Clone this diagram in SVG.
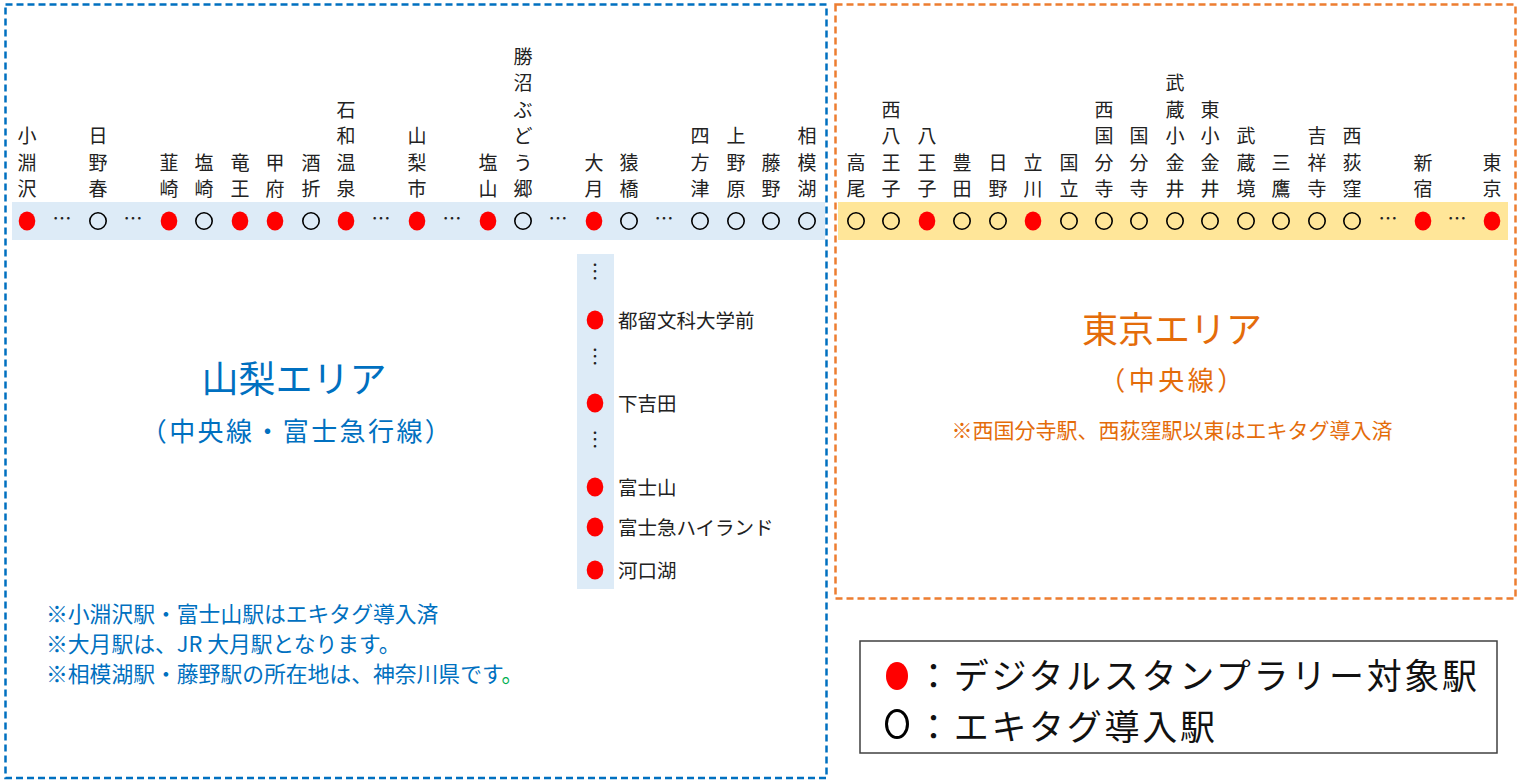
<svg xmlns="http://www.w3.org/2000/svg" width="1518" height="780" viewBox="0 0 1518 780">
<style>
text { font-family: "Noto Sans CJK JP", "Noto Sans", sans-serif; }
.st { font-size: 19px; fill: #222222; text-anchor: middle; }
.dots { font-size: 19px; fill: #222222; text-anchor: middle; }
.fj { font-size: 19.5px; fill: #222222; }
.red { fill: #FF0000; }
.open { fill: none; stroke: #000000; stroke-width: 1.6; }
.blue { fill: #0070C0; }
.orange { fill: #E46C0A; }
.note { font-size: 21.8px; fill: #0070C0; }
.leg { font-size: 35px; letter-spacing: 2.7px; fill: #111111; }
</style>
<rect width="1518" height="780" fill="#FFFFFF"/>

<!-- area frames -->
<g id="frames">
<rect x="5.5" y="4.5" width="821" height="773.5" fill="none" stroke="#0070C0" stroke-width="2.5" stroke-dasharray="7 4"/>
<rect x="835.5" y="4.5" width="680" height="594" fill="none" stroke="#ED7D31" stroke-width="2.5" stroke-dasharray="7 4"/>
</g>

<!-- line bands (connectors) -->
<g id="connectors">
<rect x="12" y="202" width="813" height="38" fill="#DDEBF7"/>
<rect x="838" y="202" width="670" height="38" fill="#FFE699"/>
<rect x="577" y="254" width="37" height="335" fill="#DDEBF7"/>
<text class="dots" x="62" y="226">…</text>
<text class="dots" x="133" y="226">…</text>
<text class="dots" x="381" y="226">…</text>
<text class="dots" x="452" y="226">…</text>
<text class="dots" x="558" y="226">…</text>
<text class="dots" x="664" y="226">…</text>
<text class="dots" x="1388" y="226">…</text>
<text class="dots" x="1457" y="226">…</text>
<text class="dots" x="595" y="279">︙</text>
<text class="dots" x="595" y="364">︙</text>
<text class="dots" x="595" y="447">︙</text>
</g>

<!-- Yamanashi area stations -->
<g id="st-kobuchizawa"><ellipse class="red" cx="27" cy="221" rx="8.3" ry="9.5"/><text class="st"><tspan x="27" y="143">小</tspan><tspan x="27" y="169.5">淵</tspan><tspan x="27" y="196">沢</tspan></text></g>
<g id="st-hinoharu"><circle class="open" cx="98" cy="221" r="8.2"/><text class="st"><tspan x="98" y="143">日</tspan><tspan x="98" y="169.5">野</tspan><tspan x="98" y="196">春</tspan></text></g>
<g id="st-nirasaki"><ellipse class="red" cx="169" cy="221" rx="8.3" ry="9.5"/><text class="st"><tspan x="169" y="169.5">韮</tspan><tspan x="169" y="196">崎</tspan></text></g>
<g id="st-shiozaki"><circle class="open" cx="204" cy="221" r="8.2"/><text class="st"><tspan x="204" y="169.5">塩</tspan><tspan x="204" y="196">崎</tspan></text></g>
<g id="st-ryuo"><ellipse class="red" cx="240" cy="221" rx="8.3" ry="9.5"/><text class="st"><tspan x="240" y="169.5">竜</tspan><tspan x="240" y="196">王</tspan></text></g>
<g id="st-kofu"><ellipse class="red" cx="275" cy="221" rx="8.3" ry="9.5"/><text class="st"><tspan x="275" y="169.5">甲</tspan><tspan x="275" y="196">府</tspan></text></g>
<g id="st-sakaori"><circle class="open" cx="311" cy="221" r="8.2"/><text class="st"><tspan x="311" y="169.5">酒</tspan><tspan x="311" y="196">折</tspan></text></g>
<g id="st-isawaonsen"><ellipse class="red" cx="346" cy="221" rx="8.3" ry="9.5"/><text class="st"><tspan x="346" y="116.5">石</tspan><tspan x="346" y="143">和</tspan><tspan x="346" y="169.5">温</tspan><tspan x="346" y="196">泉</tspan></text></g>
<g id="st-yamanashishi"><ellipse class="red" cx="417" cy="221" rx="8.3" ry="9.5"/><text class="st"><tspan x="417" y="143">山</tspan><tspan x="417" y="169.5">梨</tspan><tspan x="417" y="196">市</tspan></text></g>
<g id="st-enzan"><ellipse class="red" cx="488" cy="221" rx="8.3" ry="9.5"/><text class="st"><tspan x="488" y="169.5">塩</tspan><tspan x="488" y="196">山</tspan></text></g>
<g id="st-katsunumabudokyo"><circle class="open" cx="523" cy="221" r="8.2"/><text class="st"><tspan x="523" y="63.5">勝</tspan><tspan x="523" y="90">沼</tspan><tspan x="523" y="116.5">ぶ</tspan><tspan x="523" y="143">ど</tspan><tspan x="523" y="169.5">う</tspan><tspan x="523" y="196">郷</tspan></text></g>
<g id="st-otsuki"><ellipse class="red" cx="594" cy="221" rx="8.3" ry="9.5"/><text class="st"><tspan x="594" y="169.5">大</tspan><tspan x="594" y="196">月</tspan></text></g>
<g id="st-saruhashi"><circle class="open" cx="629" cy="221" r="8.2"/><text class="st"><tspan x="629" y="169.5">猿</tspan><tspan x="629" y="196">橋</tspan></text></g>
<g id="st-shiotsu"><circle class="open" cx="700" cy="221" r="8.2"/><text class="st"><tspan x="700" y="143">四</tspan><tspan x="700" y="169.5">方</tspan><tspan x="700" y="196">津</tspan></text></g>
<g id="st-uenohara"><circle class="open" cx="736" cy="221" r="8.2"/><text class="st"><tspan x="736" y="143">上</tspan><tspan x="736" y="169.5">野</tspan><tspan x="736" y="196">原</tspan></text></g>
<g id="st-fujino"><circle class="open" cx="771" cy="221" r="8.2"/><text class="st"><tspan x="771" y="169.5">藤</tspan><tspan x="771" y="196">野</tspan></text></g>
<g id="st-sagamiko"><circle class="open" cx="807" cy="221" r="8.2"/><text class="st"><tspan x="807" y="143">相</tspan><tspan x="807" y="169.5">模</tspan><tspan x="807" y="196">湖</tspan></text></g>

<!-- Fujikyu line stations -->
<g id="st-tsurubunkadaigakumae"><ellipse class="red" cx="595" cy="320" rx="8.3" ry="9.5"/><text class="fj" x="618" y="327.5">都留文科大学前</text></g>
<g id="st-shimoyoshida"><ellipse class="red" cx="595" cy="403" rx="8.3" ry="9.5"/><text class="fj" x="618" y="410.5">下吉田</text></g>
<g id="st-fujisan"><ellipse class="red" cx="595" cy="487" rx="8.3" ry="9.5"/><text class="fj" x="618" y="494.5">富士山</text></g>
<g id="st-fujiq"><ellipse class="red" cx="595" cy="527" rx="8.3" ry="9.5"/><text class="fj" x="618" y="534.5">富士急ハイランド</text></g>
<g id="st-kawaguchiko"><ellipse class="red" cx="595" cy="570" rx="8.3" ry="9.5"/><text class="fj" x="618" y="577.5">河口湖</text></g>

<!-- Tokyo area stations -->
<g id="st-takao"><circle class="open" cx="856" cy="221" r="8.2"/><text class="st"><tspan x="856" y="169.5">高</tspan><tspan x="856" y="196">尾</tspan></text></g>
<g id="st-nishihachioji"><circle class="open" cx="891" cy="221" r="8.2"/><text class="st"><tspan x="891" y="116.5">西</tspan><tspan x="891" y="143">八</tspan><tspan x="891" y="169.5">王</tspan><tspan x="891" y="196">子</tspan></text></g>
<g id="st-hachioji"><ellipse class="red" cx="927" cy="221" rx="8.3" ry="9.5"/><text class="st"><tspan x="927" y="143">八</tspan><tspan x="927" y="169.5">王</tspan><tspan x="927" y="196">子</tspan></text></g>
<g id="st-toyoda"><circle class="open" cx="962" cy="221" r="8.2"/><text class="st"><tspan x="962" y="169.5">豊</tspan><tspan x="962" y="196">田</tspan></text></g>
<g id="st-hino"><circle class="open" cx="998" cy="221" r="8.2"/><text class="st"><tspan x="998" y="169.5">日</tspan><tspan x="998" y="196">野</tspan></text></g>
<g id="st-tachikawa"><ellipse class="red" cx="1033" cy="221" rx="8.3" ry="9.5"/><text class="st"><tspan x="1033" y="169.5">立</tspan><tspan x="1033" y="196">川</tspan></text></g>
<g id="st-kunitachi"><circle class="open" cx="1069" cy="221" r="8.2"/><text class="st"><tspan x="1069" y="169.5">国</tspan><tspan x="1069" y="196">立</tspan></text></g>
<g id="st-nishikokubunji"><circle class="open" cx="1104" cy="221" r="8.2"/><text class="st"><tspan x="1104" y="116.5">西</tspan><tspan x="1104" y="143">国</tspan><tspan x="1104" y="169.5">分</tspan><tspan x="1104" y="196">寺</tspan></text></g>
<g id="st-kokubunji"><circle class="open" cx="1139" cy="221" r="8.2"/><text class="st"><tspan x="1139" y="143">国</tspan><tspan x="1139" y="169.5">分</tspan><tspan x="1139" y="196">寺</tspan></text></g>
<g id="st-musashikoganei"><circle class="open" cx="1175" cy="221" r="8.2"/><text class="st"><tspan x="1175" y="90">武</tspan><tspan x="1175" y="116.5">蔵</tspan><tspan x="1175" y="143">小</tspan><tspan x="1175" y="169.5">金</tspan><tspan x="1175" y="196">井</tspan></text></g>
<g id="st-higashikoganei"><circle class="open" cx="1210" cy="221" r="8.2"/><text class="st"><tspan x="1210" y="116.5">東</tspan><tspan x="1210" y="143">小</tspan><tspan x="1210" y="169.5">金</tspan><tspan x="1210" y="196">井</tspan></text></g>
<g id="st-musashisakai"><circle class="open" cx="1246" cy="221" r="8.2"/><text class="st"><tspan x="1246" y="143">武</tspan><tspan x="1246" y="169.5">蔵</tspan><tspan x="1246" y="196">境</tspan></text></g>
<g id="st-mitaka"><circle class="open" cx="1281" cy="221" r="8.2"/><text class="st"><tspan x="1281" y="169.5">三</tspan><tspan x="1281" y="196">鷹</tspan></text></g>
<g id="st-kichijoji"><circle class="open" cx="1317" cy="221" r="8.2"/><text class="st"><tspan x="1317" y="143">吉</tspan><tspan x="1317" y="169.5">祥</tspan><tspan x="1317" y="196">寺</tspan></text></g>
<g id="st-nishiogikubo"><circle class="open" cx="1352" cy="221" r="8.2"/><text class="st"><tspan x="1352" y="143">西</tspan><tspan x="1352" y="169.5">荻</tspan><tspan x="1352" y="196">窪</tspan></text></g>
<g id="st-shinjuku"><ellipse class="red" cx="1423" cy="221" rx="8.3" ry="9.5"/><text class="st"><tspan x="1423" y="169.5">新</tspan><tspan x="1423" y="196">宿</tspan></text></g>
<g id="st-tokyo"><ellipse class="red" cx="1492" cy="221" rx="8.3" ry="9.5"/><text class="st"><tspan x="1492" y="169.5">東</tspan><tspan x="1492" y="196">京</tspan></text></g>

<!-- area titles -->
<g id="title-yamanashi">
<text class="blue" x="294" y="393" font-size="37" text-anchor="middle">山梨エリア</text>
<text class="blue" x="297" y="441" font-size="26" letter-spacing="2.4" text-anchor="middle">（中央線・富士急行線）</text>
</g>
<g id="title-tokyo">
<text class="orange" x="1172" y="343" font-size="36" text-anchor="middle">東京エリア</text>
<text class="orange" x="1173" y="390" font-size="26" letter-spacing="3.5" text-anchor="middle">（中央線）</text>
<text class="orange" x="1172" y="437.5" font-size="21" text-anchor="middle">※西国分寺駅、西荻窪駅以東はエキタグ導入済</text>
</g>

<!-- notes -->
<g id="notes-yamanashi">
<text class="note"><tspan x="46" y="621.5">※小淵沢駅・富士山駅はエキタグ導入済</tspan><tspan x="46" y="651.5">※大月駅は、JR 大月駅となります。</tspan><tspan x="46" y="681.5">※相模湖駅・藤野駅の所在地は、神奈川県です</tspan><tspan fill="#00B050">。</tspan></text>
</g>

<!-- legend -->
<g id="legend">
<rect x="860" y="641" width="637" height="112" fill="#FFFFFF" stroke="#404040" stroke-width="1.5"/>
<ellipse cx="897" cy="676" rx="11" ry="14" fill="#FF0000"/>
<ellipse cx="897" cy="724" rx="10.5" ry="13.5" fill="none" stroke="#000000" stroke-width="3"/>
<text class="leg" x="916" y="689">：デジタルスタンプラリー対象駅</text>
<text class="leg" x="916" y="740">：エキタグ導入駅</text>
</g>
</svg>
